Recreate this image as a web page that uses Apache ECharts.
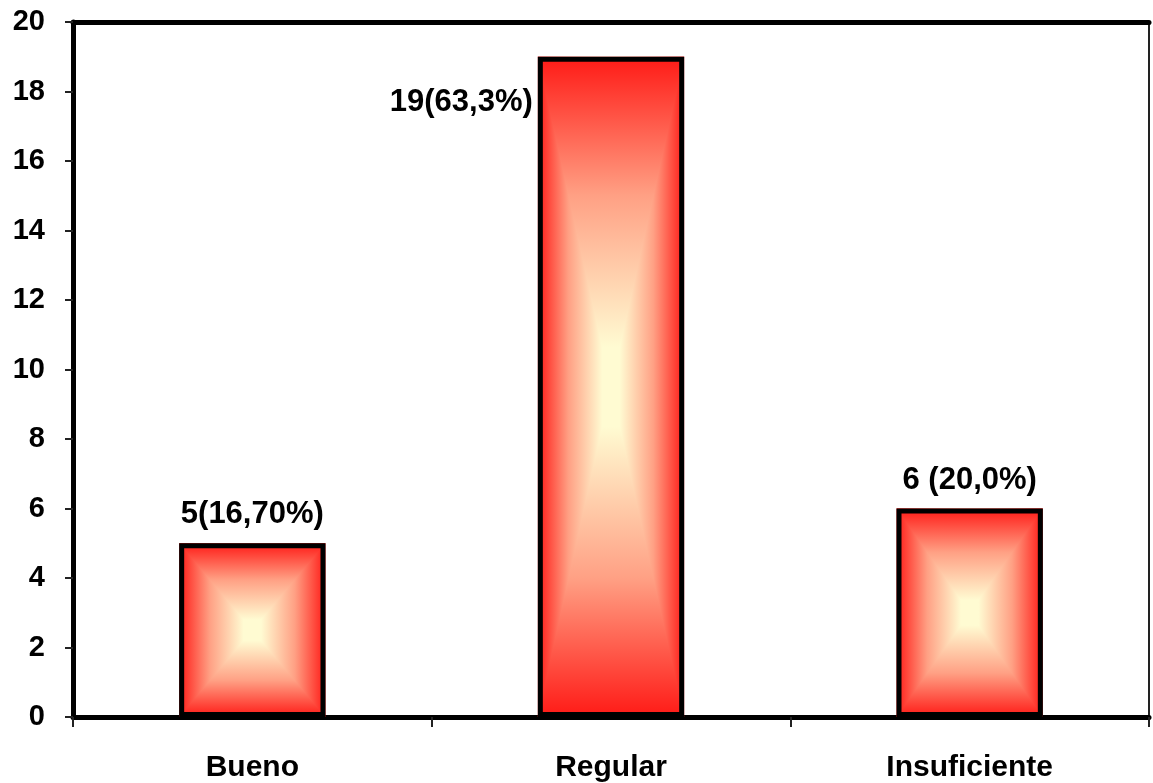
<!DOCTYPE html>
<html>
<head>
<meta charset="utf-8">
<script src="https://cdn.jsdelivr.net/npm/echarts@6/dist/echarts.min.js"></script>
<style>
html,body{margin:0;padding:0;background:#fff;}
#chart{width:1153px;height:783px;}
</style>
</head>
<body>
<div id="chart"></div>
<script>
const categories = ["Bueno", "Regular", "Insuficiente"];
const values = [5, 19, 6];
const barLabels = ["5(16,70%)", "19(63,3%)", "6 (20,0%)"];
const yTicks = [0, 2, 4, 6, 8, 10, 12, 14, 16, 18, 20];

const FONT = "'Liberation Sans', Arial, sans-serif";
const RED = '#FF1A16';
const MID = '#FFA084';
const PALE = '#FFFBD2';
const BAR_FRAC = 0.408;

const chart = echarts.init(document.getElementById('chart'), null, {renderer: 'canvas'});

function stops() {
  return [{offset: 0, color: RED}, {offset: 0.42, color: MID}, {offset: 0.88, color: PALE}, {offset: 1, color: PALE}];
}

// Rectangular ("from centre") gradient fill drawn through the axes' scales
function renderGradientBar(params, api) {
  const idx = api.value(0);
  const val = api.value(1);
  const topPt = api.coord([idx, val]);
  const basePt = api.coord([idx, 0]);
  const bw = api.size([1, 0])[0] * BAR_FRAC;
  const x0 = topPt[0] - bw / 2, x1 = topPt[0] + bw / 2;
  const y0 = topPt[1], y1 = basePt[1];
  const cx = (x0 + x1) / 2, cy = (y0 + y1) / 2;
  const hGrad = {
    type: 'linear', global: true, x: x0, y: 0, x2: x1, y2: 0,
    colorStops: [
      {offset: 0, color: RED}, {offset: 0.21, color: MID}, {offset: 0.44, color: PALE},
      {offset: 0.56, color: PALE}, {offset: 0.79, color: MID}, {offset: 1, color: RED}
    ]
  };
  return {
    type: 'group',
    children: [{
      type: 'rect',
      shape: {x: x0, y: y0, width: bw, height: y1 - y0},
      style: {fill: hGrad}
    }, {
      type: 'polygon',
      shape: {points: [[x0, y0], [x1, y0], [cx, cy]]},
      style: {fill: {type: 'linear', global: true, x: 0, y: y0, x2: 0, y2: cy, colorStops: stops()}}
    }, {
      type: 'polygon',
      shape: {points: [[x0, y1], [x1, y1], [cx, cy]]},
      style: {fill: {type: 'linear', global: true, x: 0, y: y1, x2: 0, y2: cy, colorStops: stops()}}
    }]
  };
}

const labelBase = {
  show: true,
  fontFamily: FONT,
  fontWeight: 'bold',
  fontSize: 31,
  color: '#000'
};

const overlayData = values.map((v, i) => {
  const item = {value: v, label: Object.assign({}, labelBase, {formatter: barLabels[i]})};
  if (i === 1) {
    item.label.position = [-5, 46];
    item.label.align = 'right';
    item.label.verticalAlign = 'middle';
  } else {
    item.label.position = 'top';
    item.label.distance = 13;
  }
  return item;
});

const option = {
  backgroundColor: '#fff',
  animation: false,
  grid: {
    left: 73, right: 4, top: 22, bottom: 65,
    show: true, borderColor: '#222', borderWidth: 2, backgroundColor: 'transparent'
  },
  xAxis: [{
    type: 'category',
    data: categories,
    position: 'bottom',
    axisLine: {show: true, lineStyle: {color: '#000', width: 5}},
    axisTick: {show: true, alignWithLabel: false, length: 10, lineStyle: {color: '#222', width: 2}},
    axisLabel: {fontFamily: FONT, fontWeight: 'bold', fontSize: 30, color: '#000', margin: 36},
    splitLine: {show: false}
  }, {
    type: 'category',
    data: categories,
    position: 'top',
    axisLine: {show: true, onZero: false, lineStyle: {color: '#000', width: 5}},
    axisTick: {show: false},
    axisLabel: {show: false},
    splitLine: {show: false}
  }],
  yAxis: {
    type: 'value',
    min: yTicks[0],
    max: yTicks[yTicks.length - 1],
    interval: 2,
    axisLine: {show: true, lineStyle: {color: '#000', width: 5}},
    axisTick: {show: true, length: 8, lineStyle: {color: '#222', width: 2}},
    axisLabel: {fontFamily: FONT, fontWeight: 'bold', fontSize: 29, color: '#000', margin: 28},
    splitLine: {show: false}
  },
  series: [{
    type: 'custom',
    renderItem: renderGradientBar,
    data: values.map((v, i) => [i, v]),
    encode: {x: 0, y: 1},
    silent: true,
    z: 2
  }, {
    type: 'bar',
    data: overlayData,
    barWidth: (BAR_FRAC * 100) + '%',
    itemStyle: {color: 'transparent', borderColor: '#000', borderWidth: 5},
    z: 3
  }]
};
chart.setOption(option);
</script>
</body>
</html>
